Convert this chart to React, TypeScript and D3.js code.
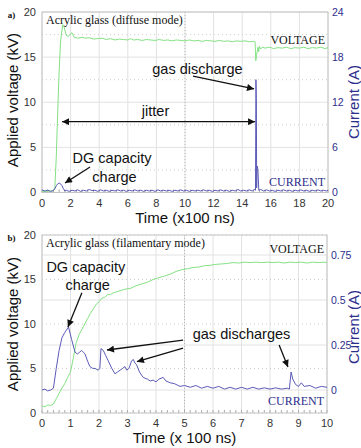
import React from "react";
import * as d3 from "d3";

// ---------- Panel a data (time in x100 ns, voltage in kV, current in A) ----------
const voltageA: [number, number][] = [
  [0, 0.1], [0.4, 0.15], [0.8, 0.2], [0.9, 0.6], [1.0, 4.0], [1.1, 9.0], [1.2, 13.5], [1.3, 16.8],
  [1.45, 18.6], [1.55, 18.3], [1.7, 17.4], [1.85, 17.3], [2.0, 17.6], [2.1, 17.7], [2.25, 17.2],
  [2.5, 17.1], [2.8, 17.2], [3.0, 17.1], [3.3, 17.15], [3.6, 17.0], [3.9, 17.05], [4.2, 17.1],
  [4.5, 16.95], [4.8, 17.05], [5.1, 16.9], [5.4, 17.0], [5.7, 16.95], [6.0, 16.9], [6.2, 17.05],
  [6.4, 16.9], [6.7, 16.95], [7.0, 16.85], [7.3, 16.95], [7.6, 16.9], [7.9, 16.85], [8.2, 16.95],
  [8.5, 16.85], [8.8, 16.9], [9.1, 16.8], [9.4, 16.9], [9.7, 16.85], [10.0, 16.8], [10.3, 16.9],
  [10.6, 16.8], [10.9, 16.85], [11.2, 16.75], [11.5, 16.85], [11.8, 16.8], [12.1, 16.75],
  [12.4, 16.85], [12.7, 16.75], [13.0, 16.8], [13.3, 16.7], [13.6, 16.8], [13.9, 16.75],
  [14.2, 16.8], [14.5, 16.7], [14.8, 16.75], [14.9, 16.7], [14.95, 14.6], [15.0, 15.2],
  [15.05, 15.6], [15.1, 16.1], [15.15, 15.6], [15.2, 16.2], [15.3, 15.9], [15.4, 16.1],
  [15.6, 16.0], [15.9, 16.1], [16.2, 15.95], [16.5, 16.05], [16.8, 16.0], [17.1, 16.1],
  [17.4, 15.95], [17.7, 16.05], [18.0, 16.0], [18.3, 16.1], [18.6, 15.95], [18.9, 16.05],
  [19.2, 16.0], [19.5, 16.1], [19.8, 15.95], [20.0, 16.05],
];

const currentA: [number, number][] = [
  [0, 0.35], [0.2, 0.2], [0.4, 0.3], [0.6, 0.15], [0.8, 0.25], [0.9, 0.5], [1.0, 0.9], [1.1, 1.15],
  [1.2, 1.25], [1.3, 1.15], [1.4, 0.9], [1.5, 0.5], [1.6, 0.2], [1.7, 0.3], [1.9, 0.15], [2.1, 0.3],
  [2.3, 0.2], [2.5, 0.35], [2.7, 0.15], [2.9, 0.3], [3.1, 0.2], [3.3, 0.4], [3.5, 0.25], [3.7, 0.3],
  [3.9, 0.15], [4.1, 0.35], [4.3, 0.2], [4.5, 0.3], [4.7, 0.15], [4.9, 0.3], [5.1, 0.2], [5.3, 0.35],
  [5.5, 0.2], [5.7, 0.3], [5.9, 0.15], [6.1, 0.3], [6.3, 0.2], [6.5, 0.35], [6.7, 0.2], [6.9, 0.3],
  [7.1, 0.15], [7.3, 0.3], [7.5, 0.2], [7.7, 0.3], [7.9, 0.15], [8.1, 0.35], [8.3, 0.2], [8.5, 0.3],
  [8.7, 0.2], [8.9, 0.3], [9.1, 0.15], [9.3, 0.3], [9.5, 0.2], [9.7, 0.35], [9.9, 0.2], [10.1, 0.3],
  [10.3, 0.15], [10.5, 0.3], [10.7, 0.2], [10.9, 0.3], [11.1, 0.2], [11.3, 0.35], [11.5, 0.2],
  [11.7, 0.3], [11.9, 0.15], [12.1, 0.3], [12.3, 0.2], [12.5, 0.35], [12.7, 0.2], [12.9, 0.3],
  [13.1, 0.15], [13.3, 0.3], [13.5, 0.2], [13.7, 0.4], [13.9, 0.2], [14.1, 0.3], [14.3, 0.2],
  [14.5, 0.35], [14.7, 0.2], [14.85, 0.4], [14.93, 0.3], [14.96, 15.0], [14.99, 12.5], [15.01, 0.6],
  [15.05, 3.5], [15.1, 3.0], [15.16, 0.3], [15.3, 0.4], [15.5, 0.2], [15.7, 0.35], [15.9, 0.2],
  [16.1, 0.3], [16.3, 0.15], [16.5, 0.3], [16.7, 0.2], [16.9, 0.35], [17.1, 0.2], [17.3, 0.3],
  [17.5, 0.15], [17.7, 0.3], [17.9, 0.2], [18.1, 0.35], [18.3, 0.2], [18.5, 0.3], [18.7, 0.15],
  [18.9, 0.3], [19.1, 0.2], [19.3, 0.35], [19.5, 0.2], [19.7, 0.3], [19.9, 0.2], [20.0, 0.3],
];

// ---------- Panel b data ----------
const voltageB: [number, number][] = [
  [0, 0.8], [0.1, 0.7], [0.2, 0.9], [0.3, 0.85], [0.4, 1.0], [0.5, 1.6], [0.6, 2.2], [0.7, 2.8],
  [0.8, 3.3], [0.9, 4.0], [1.0, 4.6], [1.1, 6.2], [1.2, 7.9], [1.3, 8.8], [1.4, 9.4], [1.5, 10.0],
  [1.6, 10.6], [1.7, 11.2], [1.8, 11.7], [1.9, 12.2], [2.0, 12.5], [2.1, 12.9], [2.2, 13.0],
  [2.3, 13.3], [2.4, 13.3], [2.5, 13.5], [2.7, 13.7], [2.9, 13.9], [3.1, 14.0], [3.3, 14.3],
  [3.5, 14.5], [3.7, 14.7], [3.9, 15.0], [4.1, 15.2], [4.3, 15.4], [4.5, 15.6], [4.7, 15.9],
  [4.9, 16.1], [5.1, 16.2], [5.3, 16.35], [5.5, 16.4], [5.7, 16.55], [5.9, 16.6], [6.1, 16.7],
  [6.3, 16.75], [6.5, 16.8], [6.7, 16.9], [6.9, 16.85], [7.1, 16.95], [7.3, 16.9], [7.5, 16.95],
  [7.7, 16.9], [7.9, 16.95], [8.1, 16.9], [8.3, 16.95], [8.5, 16.85], [8.7, 16.95], [8.9, 16.9],
  [9.1, 16.95], [9.3, 16.85], [9.5, 16.95], [9.7, 16.9], [9.9, 16.95], [10.0, 16.9],
];

const currentB: [number, number][] = [
  [0, 0.0], [0.1, 0.005], [0.2, -0.005], [0.3, 0.0], [0.4, 0.01], [0.5, 0.12], [0.6, 0.22],
  [0.7, 0.29], [0.8, 0.32], [0.93, 0.35], [1.04, 0.28], [1.16, 0.21], [1.24, 0.2], [1.32, 0.21],
  [1.39, 0.22], [1.45, 0.21], [1.51, 0.2], [1.6, 0.16], [1.68, 0.13], [1.78, 0.12], [1.86, 0.12],
  [1.97, 0.11], [2.03, 0.12], [2.07, 0.23], [2.15, 0.22], [2.24, 0.19], [2.33, 0.16], [2.45, 0.12],
  [2.56, 0.09], [2.65, 0.1], [2.74, 0.11], [2.83, 0.12], [2.91, 0.13], [2.97, 0.11], [3.05, 0.12],
  [3.14, 0.16], [3.2, 0.17], [3.26, 0.15], [3.32, 0.14], [3.42, 0.1], [3.55, 0.07], [3.7, 0.06],
  [3.8, 0.05], [3.9, 0.055], [4.0, 0.045], [4.1, 0.06], [4.25, 0.07], [4.35, 0.05], [4.5, 0.04],
  [4.65, 0.035], [4.84, 0.02], [5.0, 0.025], [5.2, 0.015], [5.4, 0.025], [5.6, 0.01], [5.8, 0.02],
  [6.0, 0.01], [6.2, 0.02], [6.4, 0.005], [6.6, 0.015], [6.8, 0.005], [7.0, 0.015], [7.2, 0.005],
  [7.4, 0.015], [7.6, 0.005], [7.8, 0.012], [8.0, 0.005], [8.2, 0.012], [8.4, 0.005], [8.6, 0.01],
  [8.68, 0.005], [8.74, 0.1], [8.8, 0.06], [8.9, 0.03], [9.0, 0.02], [9.1, 0.04], [9.2, 0.02],
  [9.4, 0.025], [9.6, 0.01], [9.8, 0.02], [10.0, 0.015],
];

// ---------- Ticks ----------
const timeTicksA = [0, 2, 4, 6, 8, 10, 12, 14, 16, 18, 20];
const timeTicksB = [0, 1, 2, 3, 4, 5, 6, 7, 8, 9, 10];
const voltageTicks = [0, 5, 10, 15, 20];
const currentTicksA = [0, 6, 12, 18, 24];
const currentTicksB = [0, 0.25, 0.5, 0.75];

const GREEN = "#84e184";
const BLUE = "#5b5bb8";
const NAVY = "#2e2e8c";
const SANS = "'Liberation Sans', Arial, sans-serif";
const SERIF = "'Liberation Serif', 'Times New Roman', serif";

type Ann = {
  texts: { t: number; v: number; s: string }[];
  arrows: { t1: number; v1: number; t2: number; v2: number; both?: boolean }[];
};

const annA: Ann = {
  texts: [
    { t: 10.87, v: 13.68, s: "gas discharge" },
    { t: 7.94, v: 9.05, s: "jitter" },
    { t: 4.9, v: 3.82, s: "DG capacity" },
    { t: 5.07, v: 1.72, s: "charge" },
  ],
  arrows: [
    { t1: 10.56, v1: 12.9, t2: 14.83, v2: 11.47 },
    { t1: 1.4, v1: 7.85, t2: 14.9, v2: 7.85, both: true },
    { t1: 3.36, v1: 2.83, t2: 1.61, v2: 1.05 },
  ],
};

const annB: Ann = {
  texts: [
    { t: 1.54, v: 16.45, s: "DG capacity" },
    { t: 1.6, v: 14.4, s: "charge" },
    { t: 7.0, v: 8.88, s: "gas discharges" },
  ],
  arrows: [
    { t1: 1.4, v1: 13.5, t2: 0.91, v2: 9.66 },
    { t1: 4.95, v1: 8.2, t2: 2.28, v2: 7.08 },
    { t1: 4.95, v1: 7.3, t2: 3.33, v2: 5.76 },
    { t1: 8.32, v1: 7.64, t2: 8.63, v2: 5.17 },
  ],
};

type PanelProps = {
  id: string;
  label: string;
  title: string;
  xLeft: number;
  xRight: number;
  yTop: number;
  yBottom: number;
  tMax: number;
  timeTicks: number[];
  voltage: [number, number][];
  current: [number, number][];
  cScale: d3.ScaleLinear<number, number>;
  currentTicks: number[];
  currentFmt: (d: number) => string;
  gridFromCurrent: boolean;
  ann: Ann;
  timeTitle: string;
  voltLabelY: number;
  currLabelY: number;
  currentLabelY: number;
  voltageLabelY: number;
};

function Panel(p: PanelProps) {
  const x = d3.scaleLinear().domain([0, p.tMax]).range([p.xLeft, p.xRight]);
  const y = d3.scaleLinear().domain([0, 20]).range([p.yBottom, p.yTop]);
  const c = p.cScale;
  const vLine = d3.line<[number, number]>().x((d) => x(d[0])).y((d) => y(d[1]));
  const cLine = d3.line<[number, number]>().x((d) => x(d[0])).y((d) => c(d[1]));
  const midT = p.tMax / 2;
  const minorStep = (p.timeTicks[1] - p.timeTicks[0]) / 5;
  const minorT = d3.range(0, p.tMax + 1e-9, minorStep);
  const dottedV = p.gridFromCurrent ? voltageTicks : [2.5, 7.5, 12.5, 17.5];
  const solidY = p.gridFromCurrent ? p.currentTicks.map((d) => c(d)) : voltageTicks.map((d) => y(d));
  const markerId = `arr-${p.id}`;
  const markerStart = `arrs-${p.id}`;
  const cx = (p.xLeft + p.xRight) / 2;
  return (
    <g>
      <defs>
        <marker id={markerId} viewBox="0 0 10 10" refX="10" refY="5" markerWidth="9" markerHeight="7"
          markerUnits="userSpaceOnUse" orient="auto">
          <path d="M0,0 L10,5 L0,10 z" fill="#111" />
        </marker>
        <marker id={markerStart} viewBox="0 0 10 10" refX="0" refY="5" markerWidth="9" markerHeight="7"
          markerUnits="userSpaceOnUse" orient="auto">
          <path d="M10,0 L0,5 L10,10 z" fill="#111" />
        </marker>
      </defs>
      {/* grid */}
      {p.timeTicks.map((t) => (
        <line key={"vg" + t} x1={x(t)} x2={x(t)} y1={p.yTop} y2={p.yBottom} stroke="#e2e2e2" strokeWidth={1} />
      ))}
      {solidY.map((yy, i) => (
        <line key={"hg" + i} x1={p.xLeft} x2={p.xRight} y1={yy} y2={yy} stroke="#e2e2e2" strokeWidth={1} />
      ))}
      {dottedV.map((v) => (
        <line key={"hd" + v} x1={p.xLeft} x2={p.xRight} y1={y(v)} y2={y(v)} stroke="#cfcfcf"
          strokeWidth={1} strokeDasharray="1,3" />
      ))}
      <line x1={x(midT)} x2={x(midT)} y1={p.yTop} y2={p.yBottom} stroke="#b8b8b8" strokeDasharray="1,2" />
      {/* minor ticks along bottom */}
      {minorT.map((t, i) => (
        <line key={"mt" + i} x1={x(t)} x2={x(t)} y1={p.yBottom} y2={p.yBottom - 3} stroke="#aaa" />
      ))}
      {/* frame */}
      <rect x={p.xLeft} y={p.yTop} width={p.xRight - p.xLeft} height={p.yBottom - p.yTop} fill="none"
        stroke="#c4c4c4" strokeWidth={1} />
      {/* series */}
      <path d={vLine(p.voltage) ?? ""} fill="none" stroke={GREEN} strokeWidth={1} />
      <path d={cLine(p.current) ?? ""} fill="none" stroke={BLUE} strokeWidth={1} />
      {/* left ticks */}
      {voltageTicks.map((v) => (
        <text key={"lt" + v} x={p.xLeft - 6} y={y(v)} dy="0.35em" textAnchor="end" fontFamily={SANS}
          fontSize={11} fill="#333">{v}</text>
      ))}
      {p.timeTicks.map((t) => (
        <text key={"bt" + t} x={x(t)} y={p.yBottom + 10.5} dy="0.35em" textAnchor="middle" fontFamily={SANS}
          fontSize={11} fill="#333">{t}</text>
      ))}
      {p.currentTicks.map((v) => (
        <text key={"rt" + v} x={p.xRight + 4} y={c(v)} dy="0.35em" textAnchor="start" fontFamily={SANS}
          fontSize={10.5} fill={NAVY}>{p.currentFmt(v)}</text>
      ))}
      {/* titles */}
      <text x={cx} y={p.yBottom + 25} dy="0.35em" textAnchor="middle" fontFamily={SANS} fontSize={15}
        fill="#111">{p.timeTitle}</text>
      <text transform={`translate(18,${p.voltageLabelY}) rotate(-90)`} textAnchor="middle" fontFamily={SANS}
        fontSize={15} fill="#111">Applied voltage (kV)</text>
      <text transform={`translate(359,${p.currentLabelY}) rotate(-90)`} textAnchor="middle" fontFamily={SANS}
        fontSize={15} fill={NAVY}>Current (A)</text>
      <text x={11.5} y={p.yTop + 3} dy="0.35em" textAnchor="middle" fontFamily={SERIF} fontSize={9}
        fontWeight="bold" fill="#111">{p.label}</text>
      <text x={p.xLeft + 4} y={p.yTop + 8} dy="0.35em" fontFamily={SERIF} fontSize={12} fill="#111">{p.title}</text>
      <text x={p.xRight - 3} y={p.voltLabelY} dy="0.35em" textAnchor="end" fontFamily={SERIF} fontSize={12}
        fill="#111">VOLTAGE</text>
      <text x={p.xRight - 3} y={p.currLabelY} dy="0.35em" textAnchor="end" fontFamily={SERIF} fontSize={12}
        fill={NAVY}>CURRENT</text>
      {/* annotations */}
      {p.ann.texts.map((a, i) => (
        <text key={"at" + i} x={x(a.t)} y={y(a.v)} dy="0.35em" textAnchor="middle" fontFamily={SANS}
          fontSize={14.5} fill="#111">{a.s}</text>
      ))}
      {p.ann.arrows.map((a, i) => (
        <line key={"ar" + i} x1={x(a.t1)} y1={y(a.v1)} x2={x(a.t2)} y2={y(a.v2)} stroke="#111" strokeWidth={1.3}
          markerEnd={`url(#${markerId})`} markerStart={a.both ? `url(#${markerStart})` : undefined} />
      ))}
    </g>
  );
}

export default function App() {
  const cScaleA = d3.scaleLinear().domain([0, 24]).range([192.5, 12]);
  const cScaleB = d3.scaleLinear().domain([0, 0.75]).range([390, 255]);
  return (
    <svg width={361} height={448} viewBox="0 0 361 448" style={{ position: "absolute", left: 0, top: 0 }}>
      <rect x={0} y={0} width={361} height={448} fill="#fff" />
      <Panel id="a" label="a)" title="Acrylic glass (diffuse mode)" xLeft={42} xRight={328} yTop={12}
        yBottom={192.5} tMax={20} timeTicks={timeTicksA} voltage={voltageA} current={currentA}
        cScale={cScaleA} currentTicks={currentTicksA} currentFmt={(d) => String(d)} gridFromCurrent={false}
        ann={annA} timeTitle="Time (x100 ns)" voltLabelY={40} currLabelY={181.5} currentLabelY={102}
        voltageLabelY={100} />
      <Panel id="b" label="b)" title="Acrylic glass (filamentary mode)" xLeft={42} xRight={327} yTop={235}
        yBottom={413} tMax={10} timeTicks={timeTicksB} voltage={voltageB} current={currentB}
        cScale={cScaleB} currentTicks={currentTicksB} currentFmt={(d) => String(d)} gridFromCurrent={true}
        ann={annB} timeTitle="Time (x 100 ns)" voltLabelY={249} currLabelY={400.5} currentLabelY={327}
        voltageLabelY={324} />
    </svg>
  );
}
